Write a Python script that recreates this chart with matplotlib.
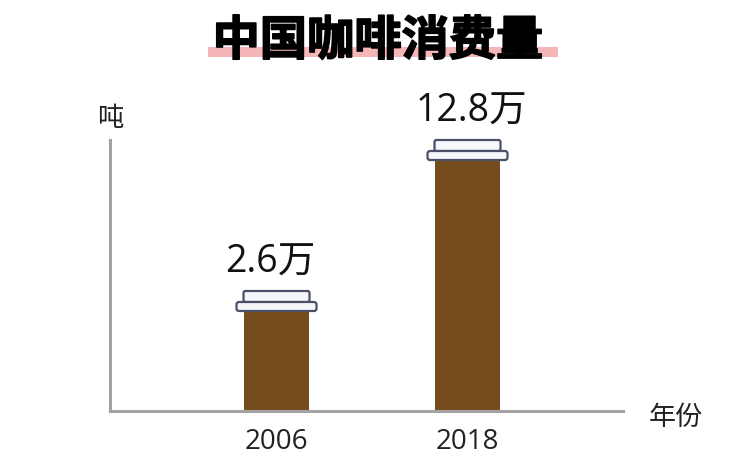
import matplotlib
matplotlib.use('Agg')
import matplotlib.pyplot as plt
from matplotlib.patches import FancyBboxPatch, Rectangle
import matplotlib.patheffects as pe

plt.rcParams['font.family'] = ['Noto Sans CJK SC', 'DejaVu Sans']
latin_first = ['Open Sans', 'Noto Sans CJK SC']

years = ['2006', '2018']
labels = ['2.6万', '12.8万']
# bar heights as drawn in the picture (not to scale with the labels)
heights = [100, 251]
bar_pos = [166.5, 357.5]
label_dx = [-6.5, 3.5]

brown = '#754c1b'
gray = '#a3a3a3'
lid_edge = '#4b5168'
lid_fill = '#f6f7fb'

fig = plt.figure(figsize=(7.38, 4.55), dpi=100)
# axes in pixels: 1 data unit = 1 px
ax = fig.add_axes([110 / 738, 44 / 455, 513 / 738, 271 / 455])
ax.set_xlim(0, 513)
ax.set_ylim(0, 271)
ax.patch.set_alpha(0)

ax.bar(bar_pos, heights, width=65, color=brown, zorder=2)

# coffee cup lids
for x, h, lab, dx in zip(bar_pos, heights, labels, label_dx):
    top = FancyBboxPatch((x - 33, h + 9), 66, 11, boxstyle='round,pad=0,rounding_size=2',
                         fc=lid_fill, ec=lid_edge, lw=1.6, zorder=3, clip_on=False)
    low = FancyBboxPatch((x - 40, h), 80, 9, boxstyle='round,pad=0,rounding_size=2.5',
                         fc=lid_fill, ec=lid_edge, lw=1.6, zorder=4, clip_on=False)
    ax.add_patch(top)
    ax.add_patch(low)
    ax.text(x + dx, h + 48, lab, ha='center', va='center', fontsize=27, color='#111111',
            family=latin_first, clip_on=False)

for s in ['top', 'right']:
    ax.spines[s].set_visible(False)
for s in ['left', 'bottom']:
    ax.spines[s].set_color(gray)
    ax.spines[s].set_linewidth(2.2)

ax.set_yticks([])
ax.set_xticks(bar_pos)
ax.set_xticklabels(years, fontsize=20, color='#222222', family=latin_first)
ax.tick_params(axis='x', length=0, pad=12)

ax.text(0, 293, '吨', ha='center', va='center', fontsize=19, color='#222222', clip_on=False)
ax.text(566, -6, '年份', ha='center', va='center', fontsize=19.5, color='#222222', clip_on=False)

# title with pink stripe behind it
fig.add_artist(Rectangle((208 / 738, 1 - 57 / 455), 350 / 738, 10 / 455,
                         transform=fig.transFigure, fc='#f4b6b6', ec='none', zorder=1))
fig.text(378 / 738, 1 - 41 / 455, '中国咖啡消费量', ha='center', va='center', fontsize=34,
         fontweight='bold', color='black', zorder=2,
         path_effects=[pe.withStroke(linewidth=1.2, foreground='black')])

fig.savefig('out.png', dpi=100)
